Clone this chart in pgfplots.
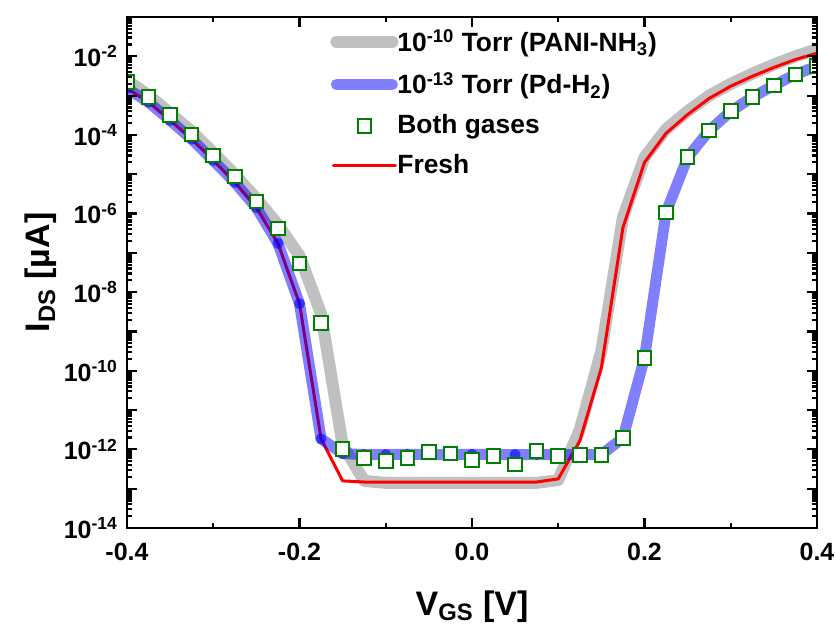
\documentclass[border=0pt]{standalone}
\usepackage{fontspec}
\setmainfont{Liberation Sans}
\usepackage{pgfplots}
\usepackage{pgfplotstable}
\pgfplotsset{compat=1.18}

\definecolor{grayband}{RGB}{192,192,192}
\definecolor{blueband}{RGB}{128,128,255}
\definecolor{sqgreen}{RGB}{0,128,0}

% V_GS [V], I_DS [uA]: G = 1e-10 Torr (PANI-NH3), B = 1e-13 Torr (Pd-H2), R = fresh, S = both gases
\pgfplotstableread{
x      G        B        R        S
-0.400 2.45e-3  1.51e-3  1.51e-3  2.19e-3
-0.375 1.02e-3  6.8e-4   6.8e-4   9.1e-4
-0.350 3.55e-4  2.34e-4  2.34e-4  3.16e-4
-0.325 1.23e-4  7.8e-5   7.8e-5   1.02e-4
-0.300 3.55e-5  2.24e-5  2.24e-5  3.0e-5
-0.275 9.8e-6   6.2e-6   6.2e-6   8.7e-6
-0.250 2.4e-6   1.41e-6  1.41e-6  2.04e-6
-0.225 5.2e-7   1.74e-7  1.74e-7  4.2e-7
-0.200 8.5e-8   5.1e-9   5.1e-9   5.4e-8
-0.175 2.8e-9   1.86e-12 1.86e-12 1.66e-9
-0.150 1.3e-12  7.8e-13  1.58e-13 1.02e-12
-0.125 1.58e-13 7.4e-13  1.48e-13 6.0e-13
-0.100 1.41e-13 7.4e-13  1.48e-13 5.1e-13
-0.075 1.41e-13 7.5e-13  1.48e-13 6.0e-13
-0.050 1.41e-13 7.4e-13  1.48e-13 8.7e-13
-0.025 1.41e-13 7.4e-13  1.48e-13 7.8e-13
0.000  1.41e-13 7.5e-13  1.48e-13 5.4e-13
0.025  1.41e-13 7.4e-13  1.48e-13 6.8e-13
0.050  1.41e-13 7.4e-13  1.48e-13 4.1e-13
0.075  1.41e-13 7.4e-13  1.48e-13 9.1e-13
0.100  1.66e-13 7.4e-13  1.78e-13 6.8e-13
0.125  3.2e-12  7.4e-13  1.66e-12 7.2e-13
0.150  3.2e-10  7.4e-13  1.2e-10  7.2e-13
0.175  8.0e-7   1.95e-12 4.4e-7   1.95e-12
0.200  2.7e-5   2.14e-10 2.0e-5   2.14e-10
0.225  1.40e-4  1.07e-6  1.10e-4  1.07e-6
0.250  4.0e-4   2.7e-5   3.3e-4   2.7e-5
0.275  1.0e-3   1.29e-4  8.5e-4   1.29e-4
0.300  2.0e-3   4.0e-4   1.74e-3  4.0e-4
0.325  3.6e-3   9.1e-4   3.1e-3   9.1e-4
0.350  6.2e-3   1.82e-3  5.2e-3   1.82e-3
0.375  1.0e-2   3.47e-3  8.3e-3   3.47e-3
0.400  1.51e-2  5.6e-3   1.20e-2  5.6e-3
}\ivdata

\begin{document}
\begin{tikzpicture}
\begin{axis}[
    name=ax,
    scale only axis,
    width=345pt, height=255.5pt,
    xmin=-0.4, xmax=0.4,
    ymode=log, ymin=1e-14, ymax=1e-1,
    xtick={-0.4,-0.2,0,0.2,0.4},
    xticklabels={-0.4,-0.2,0.0,0.2,0.4},
    minor x tick num=1,
    ytick={1e-14,1e-13,1e-12,1e-11,1e-10,1e-9,1e-8,1e-7,1e-6,1e-5,1e-4,1e-3,1e-2,1e-1},
    yticklabels={10\textsuperscript{-14},,10\textsuperscript{-12},,10\textsuperscript{-10},,10\textsuperscript{-8},,10\textsuperscript{-6},,10\textsuperscript{-4},,10\textsuperscript{-2},},
    tick align=inside,
    axis line style={line width=1.3pt},
    tick style={line width=1.1pt, black},
    major tick length=5pt, minor tick length=2.5pt,
    ticklabel style={font=\fontsize{12.5}{14}\selectfont\bfseries},
    xticklabel style={yshift=-4pt},
    yticklabel style={xshift=-1pt},
    xlabel={V\textsubscript{GS} [V]},
    ylabel={I\textsubscript{DS} [µA]},
    label style={font=\fontsize{17}{20}\selectfont\bfseries},
    x label style={at={([yshift=-43.5pt]axis description cs:0.5,0)}, anchor=base},
    y label style={at={([xshift=-38.5pt]axis description cs:0,0.5)}, anchor=base, rotate=0},
    axis on top,
    clip marker paths=true,
    legend image code/.code={\path[draw=none, fill=none] (-3pt,-3pt) rectangle (31pt,3pt);
        \draw[mark repeat=2,mark phase=2,#1] plot coordinates {(0pt,0pt) (14pt,0pt) (28pt,0pt)};},
    legend style={at={(axis description cs:0.2855,0.992)}, anchor=north west, draw=none, fill=none,
        font=\fontsize{13.2}{15}\selectfont\bfseries, row sep=5pt,
        /tikz/every odd column/.append style={column sep=-2.5pt}},
    legend cell align=left,
]
\addplot[forget plot, grayband, line width=6pt, line join=round] table[x=x, y=G] {\ivdata};
\addplot[forget plot, red, line width=1.5pt, line join=round] table[x=x, y=R] {\ivdata};
\addplot[forget plot, blue, opacity=0.5, line width=5.5pt, line join=round] table[x=x, y=B] {\ivdata};
\addplot[forget plot, only marks, mark=*, mark size=2.75pt,
    mark options={draw opacity=0, fill=blue, fill opacity=0.6}] table[x=x, y=B] {\ivdata};
\addplot[forget plot, only marks, mark=square*, mark size=3.4pt,
    mark options={draw=sqgreen, fill=white, line width=1pt}] table[x=x, y=S] {\ivdata};

\addlegendimage{grayband, line width=6pt, line cap=round}
\addlegendentry{10\textsuperscript{-10} Torr (PANI-NH\textsubscript{3})}
\addlegendimage{blueband, line width=5.5pt, line cap=round}
\addlegendentry{10\textsuperscript{-13} Torr (Pd-H\textsubscript{2})}
\addlegendimage{only marks, mark=square*, mark size=3.4pt, mark options={draw=sqgreen, fill=white, line width=1pt}}
\addlegendentry{Both gases}
\addlegendimage{red, line width=1.5pt, line cap=round, shorten <=-1.5pt, shorten >=-1.5pt}
\addlegendentry{Fresh}
\end{axis}
\pgfresetboundingbox
\path[use as bounding box] ([shift={(-63.5pt,-48.5pt)}]ax.south west) rectangle ([shift={(9.5pt,8.5pt)}]ax.north east);
\end{tikzpicture}
\end{document}
